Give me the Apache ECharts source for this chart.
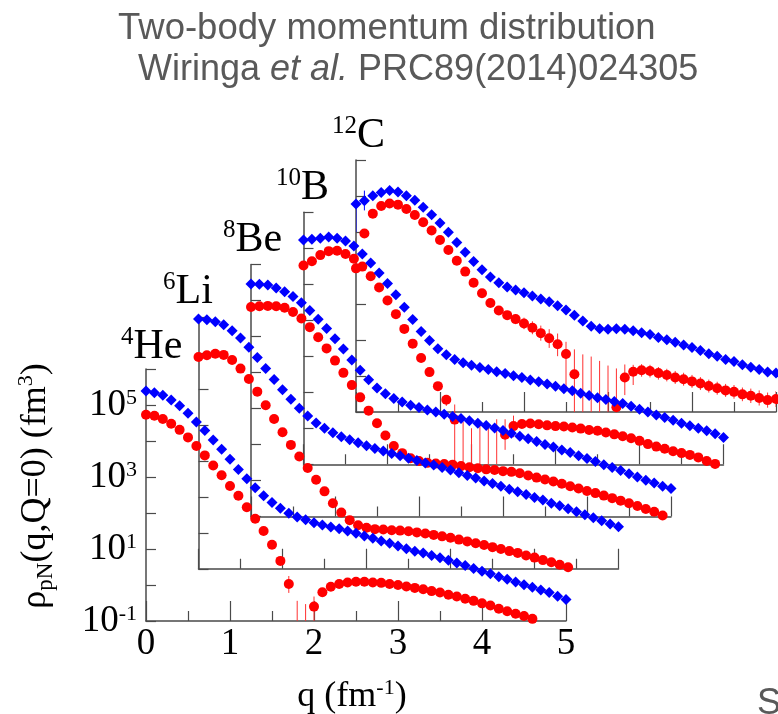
<!DOCTYPE html>
<html>
<head>
<meta charset="utf-8">
<title>Two-body momentum distribution</title>
<script src="https://cdn.jsdelivr.net/npm/echarts@6.0.0/dist/echarts.min.js"></script>
<style>
    html, body { margin: 0; padding: 0; background: #fff; }
    #chart { width: 778px; height: 714px; }
</style>
</head>
<body>
<div id="chart"></div>
<script>
// q runs 0.0, 0.1 ... 5.0 fm^-1, values are log10 of rho_pN(q,Q=0) in fm^3
// blue = pn pairs, red = pp pairs; null = no marker (negative / not shown)
var qStep = 0.1;
var massNumbers = ['4', '6', '8', '10', '12'];
var elements = ['He', 'Li', 'Be', 'B', 'C'];
var xTickValues = [0, 1, 2, 3, 4, 5];
var yLabelExps = [-1, 1, 3, 5];

var he4Pn = [5.39, 5.34, 5.27, 5.14, 4.98, 4.77, 4.53, 4.29, 4.03, 3.77,
    3.49, 3.21, 2.95, 2.70, 2.48, 2.29, 2.13, 1.99, 1.89, 1.81,
    1.73, 1.67, 1.61, 1.56, 1.50, 1.44, 1.36, 1.30, 1.22, 1.16,
    1.08, 1.01, 0.94, 0.89, 0.82, 0.76, 0.69, 0.61, 0.54, 0.46,
    0.38, 0.31, 0.23, 0.16, 0.08, 0.01, -0.06, -0.14, -0.21, -0.31, -0.40];
var he4Pp = [4.73, 4.70, 4.61, 4.48, 4.31, 4.10, 3.86, 3.60, 3.32, 3.05,
    2.75, 2.48, 2.16, 1.84, 1.50, 1.12, 0.67, 0.03, null, null,
    -0.60, -0.20, -0.05, 0.03, 0.07, 0.09, 0.09, 0.07, 0.06, 0.03,
    0.00, -0.04, -0.08, -0.12, -0.17, -0.21, -0.27, -0.32, -0.38, -0.44,
    -0.51, -0.57, -0.66, -0.73, -0.80, -0.86, -0.94];

var li6Pn = [5.94, 5.92, 5.86, 5.78, 5.61, 5.41, 5.15, 4.87, 4.56, 4.26,
    3.97, 3.71, 3.46, 3.24, 3.05, 2.90, 2.78, 2.67, 2.58, 2.50,
    2.42, 2.34, 2.27, 2.20, 2.14, 2.07, 2.01, 1.94, 1.88, 1.81,
    1.74, 1.67, 1.59, 1.52, 1.44, 1.37, 1.29, 1.21, 1.14, 1.06,
    0.98, 0.91, 0.82, 0.75, 0.67, 0.58, 0.50, 0.42, 0.33, 0.24, 0.17];
var li6Pp = [4.88, 4.93, 4.97, 4.94, 4.80, 4.56, 4.27, 3.92, 3.54, 3.16,
    2.79, 2.44, 2.12, 1.80, 1.47, 1.15, 0.82, 0.56, 0.35, 0.21,
    0.14, 0.10, 0.09, 0.07, 0.06, 0.04, 0.01, -0.02, -0.06, -0.10,
    -0.14, -0.19, -0.24, -0.29, -0.34, -0.40, -0.45, -0.51, -0.56, -0.63,
    -0.69, -0.76, -0.82, -0.89, -0.96];

var be8Pn = [5.46, 5.45, 5.43, 5.35, 5.24, 5.11, 4.94, 4.72, 4.48, 4.22,
    3.94, 3.65, 3.35, 3.06, 2.80, 2.57, 2.41, 2.28, 2.18, 2.09,
    2.03, 1.96, 1.90, 1.84, 1.78, 1.72, 1.66, 1.59, 1.53, 1.46,
    1.39, 1.31, 1.23, 1.16, 1.08, 1.00, 0.93, 0.85, 0.78, 0.69,
    0.61, 0.53, 0.44, 0.36, 0.28, 0.19, 0.10, 0.01, -0.07, -0.16, -0.22];
var be8Pp = [4.82, 4.84, 4.85, 4.84, 4.80, 4.68, 4.50, 4.26, 3.98, 3.67,
    3.33, 2.99, 2.65, 2.31, 1.94, 1.59, 1.25, 0.96, 0.76, 0.62,
    0.54, 0.49, 0.47, 0.46, 0.44, 0.40, 0.37, 0.34, 0.31, 0.29,
    0.26, 0.24, 0.20, 0.14, 0.08, 0.03, -0.03, -0.09, -0.16, -0.22,
    -0.29, -0.35, -0.42, -0.49, -0.56, -0.63, -0.71, -0.79, -0.87, -0.97];

var b10Pn = [5.23, 5.25, 5.28, 5.31, 5.28, 5.20, 5.06, 4.84, 4.59, 4.31,
    4.02, 3.71, 3.36, 3.02, 2.69, 2.44, 2.21, 2.04, 1.91, 1.82,
    1.75, 1.69, 1.63, 1.57, 1.52, 1.46, 1.41, 1.34, 1.29, 1.23,
    1.17, 1.10, 1.04, 0.97, 0.91, 0.85, 0.80, 0.74, 0.69, 0.61,
    0.53, 0.45, 0.37, 0.30, 0.22, 0.14, 0.07, 0.00, -0.07, -0.15, -0.26];
var b10Pp = [4.52, 4.64, 4.81, 4.92, 4.93, 4.84, 4.71, 4.49, 4.22, 3.91,
    3.55, 3.17, 2.76, 2.35, 1.95, 1.56, 1.17, 0.79, 0.24, null,
    null, null, null, null, -0.18, 0.06, 0.12, 0.13, 0.11, 0.08,
    0.06, 0.05, 0.02, -0.01, -0.05, -0.07, -0.12, -0.17, -0.22, -0.28,
    -0.35, -0.44, -0.51, -0.57, -0.64, -0.69, -0.74, -0.81, -0.91, -0.99];

var c12Pn = [4.78, 4.87, 5.01, 5.10, 5.15, 5.11, 5.01, 4.88, 4.69, 4.48,
    4.25, 3.99, 3.71, 3.44, 3.18, 2.95, 2.75, 2.59, 2.47, 2.39,
    2.31, 2.22, 2.14, 2.06, 1.95, 1.83, 1.69, 1.53, 1.38, 1.31,
    1.30, 1.31, 1.30, 1.26, 1.20, 1.15, 1.07, 1.01, 0.94, 0.86,
    0.79, 0.71, 0.62, 0.55, 0.46, 0.40, 0.31, 0.24, 0.18, 0.11, 0.08];
var c12Pp = [2.99, 3.96, 4.51, 4.72, 4.79, 4.76, 4.64, 4.47, 4.27, 4.04,
    3.78, 3.50, 3.20, 2.90, 2.59, 2.30, 2.03, 1.82, 1.69, 1.58,
    1.46, 1.34, 1.19, 1.05, 0.88, 0.61, 0.05, null, null, null,
    null, -0.87, -0.04, 0.12, 0.16, 0.14, 0.08, 0.03, -0.04, -0.09,
    -0.15, -0.21, -0.28, -0.34, -0.40, -0.44, -0.51, -0.55, -0.61, -0.67, -0.64];

// error bars [q, low, high] (log10); -1 = runs off the bottom of the frame
var he4PpBars = [[1.7, -0.22, 0.25], [1.8, -1, -0.44], [1.9, -1, -0.53], [2.0, -1, -0.32]];
var b10PpBars = [[1.7, 0.62, 0.92], [1.8, -1, 0.66], [1.9, -1, 0.18], [2.0, -1, 0.0],
    [2.1, -1, 0.13], [2.2, -1, 0.08], [2.3, -1, 0.25], [2.4, -0.6, 0.25], [2.5, -0.25, 0.35]];
var c12PnBars = [[0, 4.0, 4.78], [0.1, 4.6, 5.15]];
var c12PpBars = [[1.5, 2.22, 2.38], [1.6, 1.94, 2.12], [1.7, 1.72, 1.92], [1.8, 1.57, 1.81],
    [1.9, 1.44, 1.72], [2.0, 1.30, 1.62], [2.1, 1.16, 1.52], [2.2, 0.98, 1.40],
    [2.3, 0.78, 1.30], [2.4, 0.55, 1.18], [2.5, -0.34, 0.95], [2.6, -1, 0.74],
    [2.7, -1, 0.60], [2.8, -1, 0.54], [2.9, -1, 0.42], [3.0, -1, 0.29],
    [3.1, -1, 0.21], [3.2, -0.53, 0.32], [3.3, -0.25, 0.31], [3.4, -0.02, 0.33],
    [3.5, -0.04, 0.31], [3.6, -0.10, 0.25], [3.7, -0.15, 0.20], [3.8, -0.22, 0.14],
    [3.9, -0.27, 0.09], [4.0, -0.33, 0.03], [4.1, -0.39, -0.03], [4.2, -0.46, -0.10],
    [4.3, -0.52, -0.16], [4.4, -0.58, -0.22], [4.5, -0.63, -0.25], [4.6, -0.70, -0.32],
    [4.7, -0.75, -0.35], [4.8, -0.82, -0.40], [4.9, -0.88, -0.46], [5.0, -0.86, -0.42]];

var pnSets = [he4Pn, li6Pn, be8Pn, b10Pn, c12Pn];
var ppSets = [he4Pp, li6Pp, be8Pp, b10Pp, c12Pp];
var pnBarSets = [[], [], [], [], c12PnBars];
var ppBarSets = [he4PpBars, [], [], b10PpBars, c12PpBars];

var chart = echarts.init(document.getElementById('chart'), null, {renderer: 'canvas'});

var SERIF = '"Liberation Serif", "Times New Roman", serif';
var SANS = '"Liberation Sans", Arial, sans-serif';
var AXIS_COLOR = '#4a4a4a';
var BLUE = '#0000ff';
var RED = '#ff0000';

// panels are stacked back and up, each one shifted by the same step
var baseLeft = 146, baseTop = 369, stepX = 52.5, stepY = 52.25;

function toPoints(arr) {
    var out = [];
    arr.forEach(function (v, i) {
        if (v !== null) out.push([Math.round(i * qStep * 10) / 10, v]);
    });
    return out;
}

function renderBar(color) {
    return function (params, api) {
        var p1 = api.coord([api.value(0), api.value(1)]);
        var p2 = api.coord([api.value(0), api.value(2)]);
        return {
            type: 'line',
            shape: {x1: p1[0], y1: p1[1], x2: p2[0], y2: p2[1]},
            style: {stroke: color, lineWidth: 1}
        };
    };
}

var grids = [], xAxes = [], yAxes = [], series = [];
for (var k = 0; k < 5; k++) {
    var front = k === 0;
    grids.push({
        left: baseLeft + k * stepX,
        top: baseTop - k * stepY,
        width: 420,
        height: 252,
        containLabel: false,
        outerBoundsMode: 'none'
    });
    xAxes.push({
        type: 'value',
        gridIndex: k,
        min: 0,
        max: 5,
        interval: 1,
        axisLine: {show: true, onZero: false, lineStyle: {color: AXIS_COLOR, width: 1.5}},
        axisTick: {show: true, inside: true, length: 20, lineStyle: {color: AXIS_COLOR, width: 1.2}},
        minorTick: {show: true, splitNumber: 2, length: 10, lineStyle: {color: AXIS_COLOR, width: 1.2}},
        splitLine: {show: false},
        axisLabel: {
            show: front,
            margin: 5,
            color: '#000',
            fontFamily: SERIF,
            fontSize: 37,
            formatter: function (v) { return xTickValues.indexOf(v) >= 0 ? String(v) : ''; }
        }
    });
    yAxes.push({
        type: 'value',
        gridIndex: k,
        min: -1,
        max: 6,
        interval: 1,
        axisLine: {show: true, onZero: false, lineStyle: {color: AXIS_COLOR, width: 1.5}},
        axisTick: {show: true, inside: true, length: 10, lineStyle: {color: AXIS_COLOR, width: 1.2}},
        splitLine: {show: false},
        axisLabel: {
            show: front,
            margin: 9,
            formatter: function (v) {
                return yLabelExps.indexOf(v) >= 0 ? '{b|10}{e|' + v + '}' : '';
            },
            rich: {
                b: {fontFamily: SERIF, fontSize: 37, color: '#000', lineHeight: 36},
                e: {fontFamily: SERIF, fontSize: 22, color: '#000', lineHeight: 20, verticalAlign: 'top'}
            }
        }
    });

    var zBase = 30 - k * 5;
    series.push({
        type: 'custom',
        xAxisIndex: k, yAxisIndex: k,
        z: zBase,
        clip: true,
        renderItem: renderBar('#ff3030'),
        encode: {x: 0, y: [1, 2]},
        data: ppBarSets[k]
    });
    series.push({
        type: 'custom',
        xAxisIndex: k, yAxisIndex: k,
        z: zBase,
        clip: true,
        renderItem: renderBar(BLUE),
        encode: {x: 0, y: [1, 2]},
        data: pnBarSets[k]
    });
    series.push({
        type: 'scatter',
        xAxisIndex: k, yAxisIndex: k,
        z: zBase + 1,
        symbol: 'circle',
        symbolSize: 10,
        itemStyle: {color: RED, opacity: 1},
        data: toPoints(ppSets[k])
    });
    series.push({
        type: 'scatter',
        xAxisIndex: k, yAxisIndex: k,
        z: zBase + 2,
        symbol: 'diamond',
        symbolSize: [11, 11],
        itemStyle: {color: BLUE, opacity: 1},
        data: toPoints(pnSets[k])
    });
}

// nucleus names over each frame
var labelLefts = [121, 163, 223, 276, 332];
var labelMids = [347, 292, 240, 188, 136];
var graphics = [];
for (var j = 0; j < 5; j++) {
    graphics.push({
        type: 'text',
        x: labelLefts[j],
        y: labelMids[j],
        z: 100,
        style: {
            text: '{s|' + massNumbers[j] + '}{m|' + elements[j] + '}',
            textAlign: 'left',
            textVerticalAlign: 'middle',
            rich: {
                s: {fontFamily: SERIF, fontSize: 25, lineHeight: 24, verticalAlign: 'top', fill: '#000'},
                m: {fontFamily: SERIF, fontSize: 42, lineHeight: 44, fill: '#000'}
            }
        }
    });
}

graphics.push({
    type: 'text', x: 118, y: 29, z: 100,
    style: {
        text: 'Two-body momentum distribution',
        fontFamily: SANS, fontSize: 36.5, fill: '#595959',
        textAlign: 'left', textVerticalAlign: 'middle'
    }
});
graphics.push({
    type: 'text', x: 138, y: 70, z: 100,
    style: {
        text: '{n|Wiringa }{i|et al.}{n| PRC89(2014)024305}',
        textAlign: 'left', textVerticalAlign: 'middle',
        rich: {
            n: {fontFamily: SANS, fontSize: 36, fill: '#595959'},
            i: {fontFamily: SANS, fontSize: 36, fontStyle: 'italic', fill: '#595959'}
        }
    }
});
graphics.push({
    type: 'text', x: 757, y: 686, z: 100,
    style: {text: 'S', fontFamily: SANS, fontSize: 36, fill: '#595959', textAlign: 'left', textVerticalAlign: 'top'}
});
graphics.push({
    type: 'text', x: 352, y: 697, z: 100,
    style: {
        text: '{r|q (fm}{e|-1}{r|)}',
        textAlign: 'center', textVerticalAlign: 'middle',
        rich: {
            r: {fontFamily: SERIF, fontSize: 36, lineHeight: 40, fill: '#000'},
            e: {fontFamily: SERIF, fontSize: 22, lineHeight: 22, verticalAlign: 'top', fill: '#000'}
        }
    }
});
graphics.push({
    type: 'text', x: 36, y: 486, z: 100,
    rotation: Math.PI / 2,
    style: {
        text: '{r|\u03c1}{b|pN}{r|(q,Q=0) (fm}{e|3}{r|)}',
        textAlign: 'center', textVerticalAlign: 'middle',
        rich: {
            r: {fontFamily: SERIF, fontSize: 36, lineHeight: 42, fill: '#000'},
            b: {fontFamily: SERIF, fontSize: 23, lineHeight: 23, verticalAlign: 'bottom', fill: '#000'},
            e: {fontFamily: SERIF, fontSize: 22, lineHeight: 22, verticalAlign: 'top', fill: '#000'}
        }
    }
});

var option = {
    backgroundColor: '#ffffff',
    animation: false,
    grid: grids,
    xAxis: xAxes,
    yAxis: yAxes,
    series: series,
    graphic: graphics
};

chart.setOption(option);
window.addEventListener('resize', function () {
    chart.resize();
});
</script>
</body>
</html>
